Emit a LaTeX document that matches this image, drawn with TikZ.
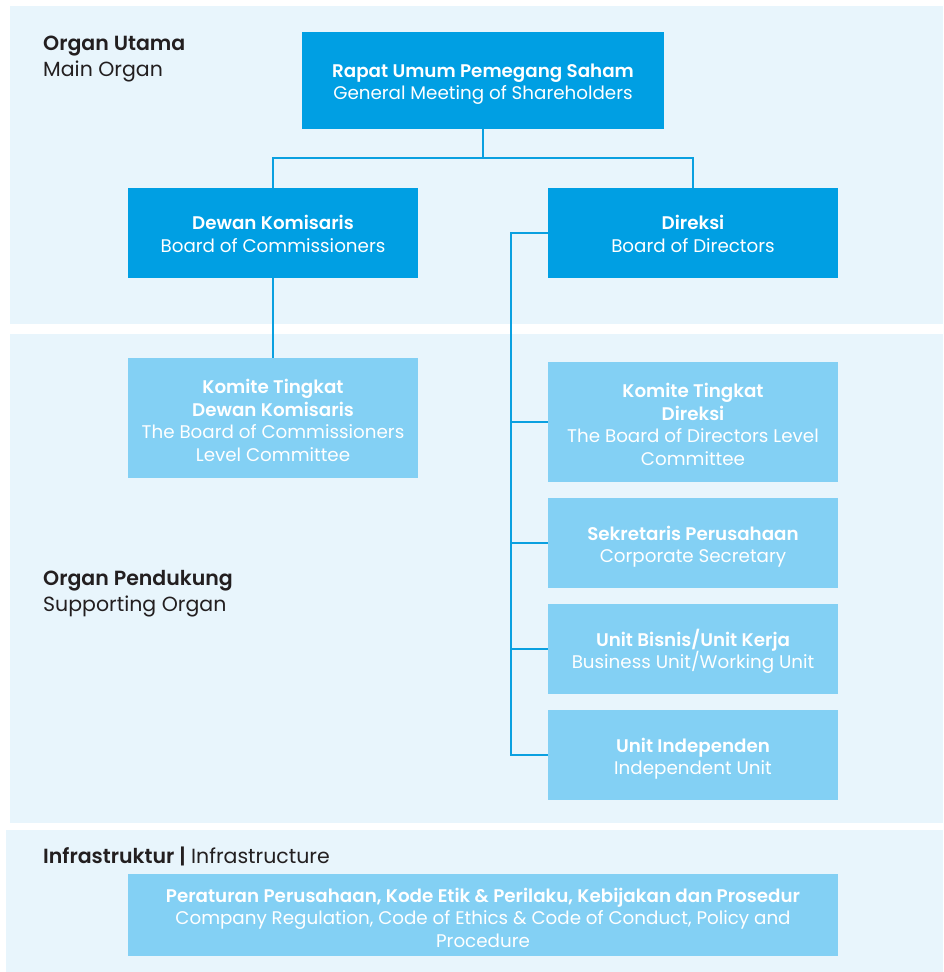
\documentclass[tikz,border=0pt]{standalone}
\usepackage{fontspec}
\setmainfont{Poppins}[BoldFont={Poppins SemiBold}]
\begin{document}
\definecolor{bandbg}{HTML}{E8F5FC}
\definecolor{mainbox}{HTML}{009FE3}
\definecolor{subbox}{HTML}{83D0F4}
\definecolor{linkcol}{HTML}{0AA0E0}
\definecolor{inktext}{HTML}{231F20}
\begin{tikzpicture}[x=1pt,y=-1pt,
  band/.style={fill=bandbg,draw=none},
  mainorg/.style={fill=mainbox,draw=none,minimum width=#1,inner sep=0pt},
  suporg/.style={fill=subbox,draw=none,minimum width=#1,inner sep=0pt},
  boxtext/.style={text=white,align=center,inner sep=0pt,font=\fontsize{18.3}{22.4}\selectfont},
  link/.style={draw=linkcol,line width=2.6pt},
  sectlabel/.style={anchor=west,text=inktext,align=left,inner sep=0pt,font=\fontsize{20.5}{26}\selectfont}
]
\useasboundingbox (0,0) rectangle (943,972);
\fill[white] (0,0) rectangle (943,972);

% background bands
\fill[band] (10,6) rectangle (943,324);
\fill[band] (10,334) rectangle (943,823);
\fill[band] (6,830) rectangle (943,972);

% section labels
\node[sectlabel] (lblmain) at (43,59) {\textbf{Organ Utama}\\Main Organ};
\node[sectlabel] (lblsupp) at (43,594) {\textbf{Organ Pendukung}\\Supporting Organ};
\node[sectlabel] (lblinfra) at (43,856) {\textbf{Infrastruktur |} Infrastructure};

% branching points of the connectors
\coordinate (split) at (483,158);
\coordinate (spine) at (511,233);
\coordinate (spineend) at (511,755);

% main organs
\node[mainorg=362pt,minimum height=97pt] (rups) at (483,80.5) {};
\node[boxtext] (rups-t) at ([yshift=-3.5pt]rups.center)
  {\textbf{Rapat Umum Pemegang Saham}\\General Meeting of Shareholders};
\node[mainorg=290pt,minimum height=90pt] (dekom) at (273,233) {};
\node[boxtext] (dekom-t) at ([yshift=-1pt]dekom.center)
  {\textbf{Dewan Komisaris}\\Board of Commissioners};
\node[mainorg=290pt,minimum height=90pt] (direksi) at (693,233) {};
\node[boxtext] (direksi-t) at ([yshift=-1pt]direksi.center)
  {\textbf{Direksi}\\Board of Directors};

% supporting organs
\node[suporg=290pt,minimum height=120pt] (komdk) at (273,418) {};
\node[boxtext] (komdk-t) at ([yshift=-2.5pt]komdk.center)
  {\textbf{Komite Tingkat}\\\textbf{Dewan Komisaris}\\The Board of Commissioners\\Level Committee};
\node[suporg=290pt,minimum height=120pt] (komdir) at (693,422) {};
\node[boxtext] (komdir-t) at ([yshift=-2.5pt]komdir.center)
  {\textbf{Komite Tingkat}\\\textbf{Direksi}\\The Board of Directors Level\\Committee};
\node[suporg=290pt,minimum height=90pt] (sekper) at (693,543) {};
\node[boxtext] (sekper-t) at ([yshift=-3.5pt]sekper.center)
  {\textbf{Sekretaris Perusahaan}\\Corporate Secretary};
\node[suporg=290pt,minimum height=90pt] (unitbis) at (693,649) {};
\node[boxtext] (unitbis-t) at ([yshift=-2.5pt]unitbis.center)
  {\textbf{Unit Bisnis/Unit Kerja}\\Business Unit/Working Unit};
\node[suporg=290pt,minimum height=90pt] (unitind) at (693,755) {};
\node[boxtext] (unitind-t) at ([yshift=-3.5pt]unitind.center)
  {\textbf{Unit Independen}\\Independent Unit};

% infrastructure
\node[suporg=710pt,minimum height=82pt] (aturan) at (483,915) {};
\node[boxtext] (aturan-t) at ([yshift=-2.5pt]aturan.center)
  {\textbf{Peraturan Perusahaan, Kode Etik \& Perilaku, Kebijakan dan Prosedur}\\Company Regulation, Code of Ethics \& Code of Conduct, Policy and\\Procedure};

% links
\draw[link] (rups.south) -- (split);
\draw[link] (dekom.north) |- (split) -| (direksi.north);
\draw[link] (dekom.south) -- (komdk.north);
\draw[link] (direksi.west) -- (spine) -- (spineend) -- (unitind.west);
\draw[link] (spine |- komdir.west) -- (komdir.west);
\draw[link] (spine |- sekper.west) -- (sekper.west);
\draw[link] (spine |- unitbis.west) -- (unitbis.west);
\end{tikzpicture}
\end{document}
